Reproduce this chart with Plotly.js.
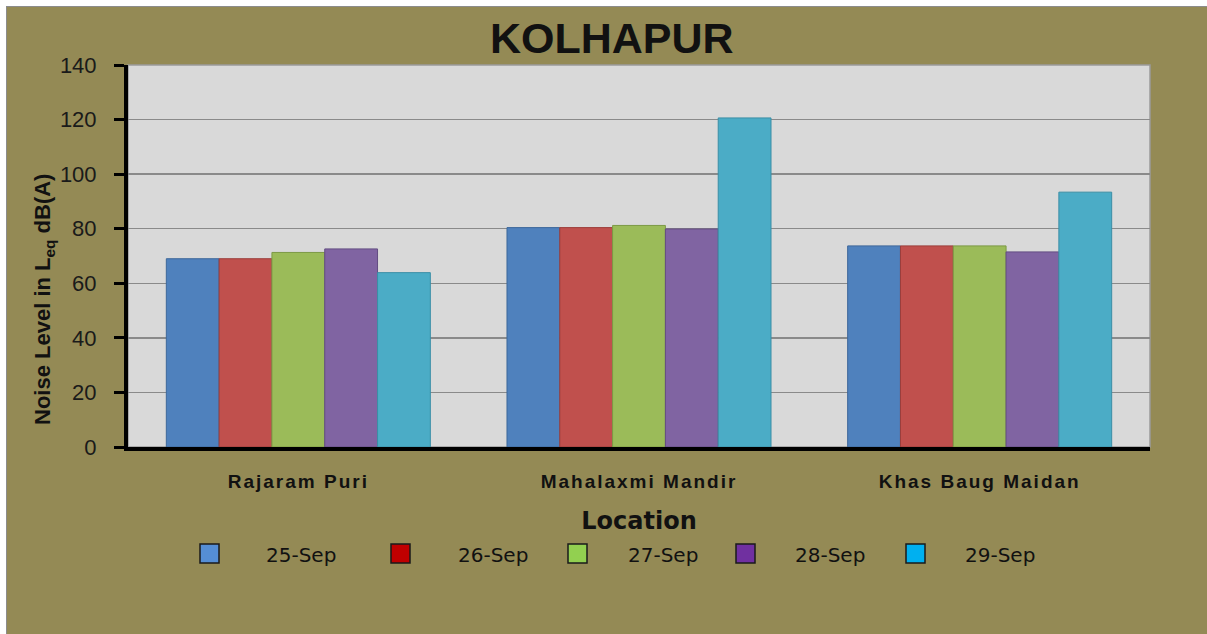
<!DOCTYPE html>
<html><head><meta charset="utf-8">
<script src="https://cdn.plot.ly/plotly-3.0.1.min.js"></script>
<style>
html,body{margin:0;padding:0;background:#fff;}
#chart{position:absolute;left:6px;top:6px;width:1200px;height:627px;border-top:1px solid #8c8c8c;border-left:1px solid #8c8c8c;}
.xtick text{letter-spacing:2px;}
</style></head><body><div id="chart"></div>
<script>
const locations = ['Rajaram Puri', 'Mahalaxmi Mandir', 'Khas Baug Maidan'];
const dates = ['25-Sep', '26-Sep', '27-Sep', '28-Sep', '29-Sep'];
const sep25 = [69.0, 80.4, 73.7];
const sep26 = [69.0, 80.4, 73.7];
const sep27 = [71.3, 81.2, 73.7];
const sep28 = [72.6, 79.9, 71.5];
const sep29 = [63.9, 120.6, 93.4];
const yTickVals = [0, 20, 40, 60, 80, 100, 120, 140];

const series = [sep25, sep26, sep27, sep28, sep29];
const barColors = ['#4F81BD', '#C0504D', '#9BBB59', '#8064A2', '#4BACC6'];
const barLines = ['#3d679a', '#9b3d3a', '#7c9a44', '#634c82', '#3a8ea6'];
const legendColors = ['#558ED5', '#C00000', '#92D050', '#7030A0', '#00B0F0'];

const traces = series.map((vals, i) => ({
  type: 'bar',
  name: dates[i],
  x: locations,
  y: vals,
  marker: {color: barColors[i], line: {color: barLines[i], width: 1}},
  showlegend: false,
  hoverinfo: 'x+y+name'
}));

// plot area in page pixels: x 128..1150, y 65..447
const PX0 = 128, PX1 = 1150, PY0 = 65, PY1 = 447;
const px = x => (x - PX0) / (PX1 - PX0);
const py = y => (PY1 - y) / (PY1 - PY0);

const swatchX = [200, 391, 568, 736, 906];
const textX = [264, 456, 626, 793, 963];
const shapes = [{
  type: 'rect', xref: 'paper', yref: 'paper', x0: 0, x1: 1, y0: 0, y1: 1,
  line: {color: '#9a9a9a', width: 1.5}, fillcolor: 'rgba(0,0,0,0)', layer: 'below'
}];
const annotations = [{
  xref: 'paper', yref: 'paper', x: px(44), y: py(300), xanchor: 'center', yanchor: 'middle',
  textangle: -90, showarrow: false,
  text: '<b>Noise Level in L<sub>eq</sub> dB(A)</b>',
  font: {family: 'Liberation Sans, Arial, sans-serif', size: 22, color: '#111'}
}];
dates.forEach((d, i) => {
  shapes.push({
    type: 'rect', xref: 'paper', yref: 'paper',
    x0: px(swatchX[i]), x1: px(swatchX[i] + 19), y0: py(563), y1: py(544),
    fillcolor: legendColors[i], line: {color: '#1a1a1a', width: 1.5}
  });
  annotations.push({
    xref: 'paper', yref: 'paper', x: px(textX[i]), y: py(555),
    xanchor: 'left', yanchor: 'middle', showarrow: false, text: d,
    font: {family: 'DejaVu Sans, sans-serif', size: 20, color: '#111'}
  });
});

const layout = {
  width: 1200, height: 627,
  paper_bgcolor: '#948A55', plot_bgcolor: '#D9D9D9',
  margin: {l: 121, r: 57, t: 58, b: 187},
  title: {
    text: '<b>KOLHAPUR</b>', x: 0.504, xanchor: 'center', y: 1 - 31 / 627, yanchor: 'middle',
    font: {family: 'Liberation Sans, Arial, sans-serif', size: 43, color: '#111'}
  },
  barmode: 'group', bargap: 0.225, bargroupgap: 0,
  xaxis: {
    type: 'category', showline: true, linecolor: '#000', linewidth: 4,
    ticks: '', ticklabelstandoff: 14,
    tickfont: {family: 'Liberation Sans, Arial, sans-serif', size: 19, color: '#111', weight: 'bold'},
    title: {text: '<b>Location</b>', standoff: 22,
      font: {family: 'DejaVu Sans, sans-serif', size: 24, color: '#111'}},
    automargin: false
  },
  yaxis: {
    range: [0, 140], tickvals: yTickVals, showline: true, linecolor: '#000', linewidth: 4,
    ticks: 'outside', ticklen: 10, tickwidth: 3, tickcolor: '#000',
    gridcolor: '#8a8a8a', gridwidth: 1.5, zeroline: false,
    tickfont: {family: 'Liberation Sans, Arial, sans-serif', size: 22, color: '#1a1a1a'},
    ticklabelstandoff: 13, automargin: false
  },
  shapes: shapes,
  annotations: annotations,
  showlegend: false
};

Plotly.newPlot('chart', traces, layout, {displayModeBar: false, staticPlot: true});
</script></body></html>
